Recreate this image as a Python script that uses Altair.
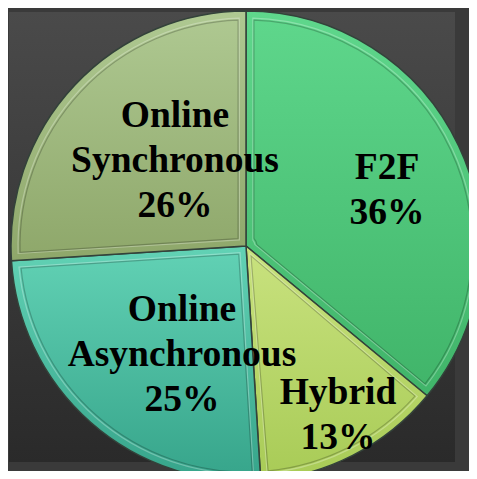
import math
import altair as alt
import pandas as pd

# ---- data ----
categories = ["F2F", "Hybrid", "Online Asynchronous", "Online Synchronous"]
percentages = [36, 13, 25, 26]
slice_order = [1, 2, 3, 4]

df = pd.DataFrame({"category": categories, "value": percentages, "order": slice_order})

# ---- styling ----
W, H = 461, 463
CX, CY = 237, 234
R = 235
top_colors = {
    "F2F": "#5fd78c",
    "Hybrid": "#c9e27f",
    "Online Asynchronous": "#62d2b5",
    "Online Synchronous": "#afc992",
}
bottom_colors = {
    "F2F": "#40b469",
    "Hybrid": "#a8cb56",
    "Online Asynchronous": "#36a48a",
    "Online Synchronous": "#8ea76a",
}
# (label radius, dx, dy)
label_layout = {
    "F2F": (150, 5.3, -14),
    "Hybrid": (195, 3.5, -26.5),
    "Online Asynchronous": (128, 20.6, -32),
    "Online Synchronous": (108, 7.7, -56),
}


def grad(c1, c2):
    return alt.LinearGradient(
        gradient="linear",
        stops=[alt.GradientStop(color=c1, offset=0), alt.GradientStop(color=c2, offset=1)],
        x1=0, x2=0, y1=0, y2=1,
    )


theta_scale = alt.Scale(domain=[0, 100], range=[0, 2 * math.pi])

base = alt.Chart(df).transform_window(
    end="sum(value)", sort=[alt.SortField("order")]
).transform_calculate(
    start="datum.end - datum.value",
    mid="datum.end - datum.value / 2",
    label="replace(datum.category, ' ', '\\n') + '\\n' + datum.value + '%'",
)

bg = alt.Chart(pd.DataFrame({"k": [0]})).mark_rect(
    fill=grad("#4a4a4a", "#2a2a2a")
).encode(
    x=alt.value(0), x2=alt.value("width"), y=alt.value(0), y2=alt.value("height")
)

arc_enc = dict(
    theta=alt.Theta("start:Q", scale=theta_scale),
    theta2="end:Q",
    x=alt.value(CX),
    y=alt.value(CY),
)

slices = []
for cat in categories:
    slices.append(
        base.transform_filter(alt.datum.category == cat)
        .mark_arc(
            outerRadius=R,
            fill=grad(top_colors[cat], bottom_colors[cat]),
            stroke="#33423a",
            strokeWidth=1.5,
        )
        .encode(**arc_enc)
    )

bevel_light = base.mark_arc(
    outerRadius=R - 7, innerRadius=9, padAngle=0.06,
    fill="white", fillOpacity=0, stroke="#ffffff", strokeOpacity=0.28, strokeWidth=1.2,
).encode(**arc_enc)

bevel_dark = base.mark_arc(
    outerRadius=R - 9, innerRadius=11, padAngle=0.07,
    fill="white", fillOpacity=0, stroke="#000000", strokeOpacity=0.22, strokeWidth=1.2,
).encode(**arc_enc)

texts = []
for cat in categories:
    r, dx, dy = label_layout[cat]
    texts.append(
        base.transform_filter(alt.datum.category == cat)
        .mark_text(
            radius=r, dx=dx, dy=dy,
            font="Liberation Serif", fontSize=37.5, fontWeight="bold",
            lineHeight=45, lineBreak="\n",
            align="center", baseline="middle", color="black",
        )
        .encode(
            theta=alt.Theta("mid:Q", scale=theta_scale),
            text="label:N",
            x=alt.value(CX),
            y=alt.value(CY),
        )
    )

chart = alt.layer(bg, *slices, bevel_light, bevel_dark, *texts).properties(
    width=W,
    height=H,
    padding=0,
    background="#3a3a3a",
    autosize=alt.AutoSizeParams(type="fit", contains="padding"),
).configure_view(stroke="transparent")

chart.save("out.html", embed_options={"renderer": "svg", "actions": False})
